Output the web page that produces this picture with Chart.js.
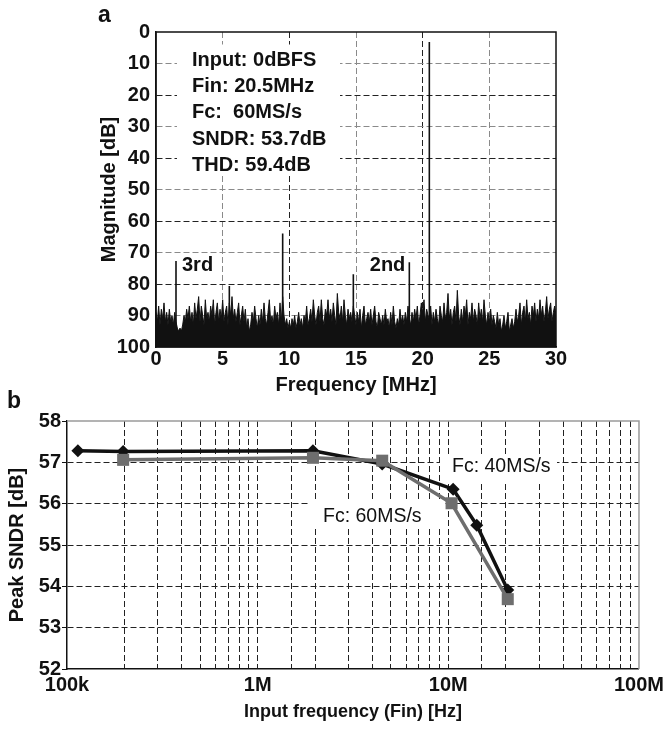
<!DOCTYPE html>
<html>
<head>
<meta charset="utf-8">
<script src="https://cdn.jsdelivr.net/npm/chart.js@4/dist/chart.umd.min.js"></script>
<style>
  html, body { margin: 0; padding: 0; background: #fff; }
  #wrap { position: relative; width: 668px; height: 729px; background: #fff; overflow: hidden; }
  #ca { position: absolute; left: 0; top: 0; }
  #cb { position: absolute; left: 0; top: 390px; }
</style>
</head>
<body>
<div id="wrap">
  <canvas id="ca" width="668" height="400"></canvas>
  <canvas id="cb" width="668" height="339"></canvas>
</div>
<script>
// ---------------- Panel a: FFT spectrum ----------------
const binStepMHz = 0.1;
// magnitude (dB below full scale) per 0.1 MHz bin, 0.0 ... 30.0 MHz
const noiseMag = [
  89,92,87,93,88,91,86,92,89,93,
  88,92,90,93,89,92,94,95,94,95,
  93,90,92,88,91,87,92,89,93,86,
  91,88,84,92,87,90,93,85,91,89,
  92,87,90,85,93,89,86,92,88,91,
  85,92,89,87,93,86,90,84,91,88,
  92,89,86,93,90,87,92,88,94,91,
  95,93,89,92,87,91,94,90,93,88,
  92,86,91,93,89,85,92,90,93,87,
  91,89,93,86,92,84,90,93,91,94,
  92,94,91,93,90,94,92,89,93,91,
  94,90,92,87,93,91,88,92,85,90,
  93,89,87,92,85,91,93,88,90,85,
  91,88,92,86,90,93,83,89,91,87,
  92,85,90,93,88,91,89,92,87,90,
  93,89,92,88,94,90,87,93,91,89,
  92,88,93,90,87,92,94,89,91,93,
  90,93,88,92,91,94,89,93,87,92,
  94,91,93,88,92,90,93,89,92,87,
  91,93,89,92,88,91,87,93,90,86,
  89,85,92,88,90,91,87,93,89,92,
  88,91,93,87,90,92,86,91,89,83,
  91,88,93,89,87,92,82,90,93,88,
  92,87,90,85,93,89,91,86,92,88,
  90,93,86,91,88,92,85,90,93,89,
  92,88,93,90,92,94,89,93,91,95,
  93,90,94,92,89,95,93,91,94,92,
  88,92,90,86,93,89,87,92,85,91,
  89,93,87,90,86,92,88,91,85,90,
  87,92,89,84,91,88,86,92,89,87,
  90
];
// tones: signal and spurs (MHz, dB)
const spikeFreq = [1.5, 5.5, 9.5, 14.8, 19.0, 20.5];
const spikeMag  = [72.7, 80.6, 64.0, 76.9, 73.1, 3.2];
const harmonicNames = ['3rd', '2nd'];
const harmonicFreq  = [1.5, 19.0];
const harmonicMag   = [72.7, 73.1];
const infoLines = ['Input: 0dBFS', 'Fin: 20.5MHz', 'Fc:  60MS/s', 'SNDR: 53.7dB', 'THD: 59.4dB'];

// ---------------- Panel b: SNDR vs input frequency ----------------
const seriesNames = ['Fc: 40MS/s', 'Fc: 60MS/s'];
const finHz40 = [1.14e5, 1.97e5, 1.95e6, 4.5e6, 1.06e7, 1.41e7, 2.05e7];
const sndr40  = [57.28, 57.26, 57.28, 56.96, 56.35, 55.48, 53.91];
const finHz60 = [1.97e5, 1.95e6, 4.5e6, 1.04e7, 2.05e7];
const sndr60  = [57.06, 57.11, 57.04, 56.01, 53.69];
const xTickValues = [1e5, 1e6, 1e7, 1e8];
const xTickLabels = ['100k', '1M', '10M', '100M'];

const FONT = '"Liberation Sans", Arial, Helvetica, sans-serif';

// ---------- build panel a ----------
const noisePts = noiseMag.map((m, i) => ({ x: +(i * binStepMHz).toFixed(2), y: m }));
const spikePts = [];
spikeFreq.forEach((f, i) => {
  spikePts.push({ x: f, y: 100 }, { x: f, y: spikeMag[i] }, { x: f, y: null });
});

const panelAPlugin = {
  id: 'panelA',
  beforeDatasetsDraw(chart) {
    const { ctx, chartArea: a } = chart;
    ctx.save();
    ctx.fillStyle = '#fff';
    ctx.fillRect(a.left + 21, a.top + 12.5, 163, 130);
    ctx.restore();
  },
  afterDraw(chart) {
    const { ctx, chartArea: a, scales: { x, y } } = chart;
    ctx.save();
    ctx.strokeStyle = '#111';
    ctx.lineWidth = 1.5;
    ctx.strokeRect(a.left, a.top, a.right - a.left, a.bottom - a.top);
    ctx.fillStyle = '#111';
    ctx.font = 'bold 20px ' + FONT;
    ctx.textBaseline = 'middle';
    ctx.textAlign = 'left';
    infoLines.forEach((t, i) => ctx.fillText(t, a.left + 36, a.top + 28 + i * 26.4));
    ctx.fillText(harmonicNames[0], x.getPixelForValue(harmonicFreq[0]) + 6, y.getPixelForValue(harmonicMag[0]) + 4);
    ctx.textAlign = 'right';
    ctx.fillText(harmonicNames[1], x.getPixelForValue(harmonicFreq[1]) - 4, y.getPixelForValue(harmonicMag[1]) + 3);
    ctx.textAlign = 'left';
    ctx.textBaseline = 'alphabetic';
    ctx.font = 'bold 23px ' + FONT;
    ctx.fillText('a', 98, 22);
    ctx.restore();
  }
};

new Chart(document.getElementById('ca'), {
  type: 'line',
  data: {
    datasets: [
      { data: noisePts, borderColor: '#111', backgroundColor: '#111', borderWidth: 1,
        pointRadius: 0, fill: { value: 100 }, tension: 0 },
      { data: spikePts, borderColor: '#111', borderWidth: 1.6, pointRadius: 0,
        fill: false, spanGaps: false, tension: 0 }
    ]
  },
  options: {
    responsive: false,
    animation: false,
    events: [],
    layout: { padding: { left: 0, right: 112, top: 32, bottom: 0 } },
    plugins: { legend: { display: false }, tooltip: { enabled: false } },
    scales: {
      x: {
        type: 'linear', min: 0, max: 30, offset: false,
        ticks: { stepSize: 5, font: { family: FONT, size: 20, weight: 'bold' }, color: '#111', padding: 0, maxRotation: 0 },
        grid: {
          drawTicks: false, lineWidth: 1,
          color: c => (c.tick.value === 0 || c.tick.value === 30) ? 'rgba(0,0,0,0)' : (c.tick.value % 10 === 0 ? '#222' : '#8a8a8a')
        },
        border: { display: true, color: '#111', width: 1.5, dash: [6, 3] },
        title: { display: true, text: 'Frequency [MHz]', color: '#111',
          font: { family: FONT, size: 20, weight: 'bold' }, padding: { top: 0, bottom: 3 } },
        afterFit: s => { s.height = 53; }
      },
      y: {
        type: 'linear', min: 0, max: 100, reverse: true,
        ticks: { stepSize: 10, font: { family: FONT, size: 20, weight: 'bold' }, color: '#111', padding: 6 },
        grid: {
          drawTicks: false, lineWidth: 1,
          color: c => (c.tick.value === 0 || c.tick.value === 100) ? 'rgba(0,0,0,0)' : (c.tick.value % 20 === 0 ? '#222' : '#8a8a8a')
        },
        border: { display: true, color: '#111', width: 1.5, dash: [6, 3] },
        title: { display: true, text: 'Magnitude [dB]', color: '#111',
          font: { family: FONT, size: 20, weight: 'bold' }, padding: { top: 97, bottom: 0 } },
        afterFit: s => { s.width = 156; }
      }
    }
  },
  plugins: [panelAPlugin]
});

// ---------- build panel b ----------
const pts40 = finHz40.map((f, i) => ({ x: f, y: sndr40[i] }));
const pts60 = finHz60.map((f, i) => ({ x: f, y: sndr60[i] }));

function tickLabelFor(v) {
  for (let i = 0; i < xTickValues.length; i++) {
    if (Math.abs(Math.log10(v) - Math.log10(xTickValues[i])) < 1e-6) return xTickLabels[i];
  }
  return '';
}
function isEdgeX(v) {
  return Math.abs(Math.log10(v) - 5) < 1e-6 || Math.abs(Math.log10(v) - 8) < 1e-6;
}

const panelBPlugin = {
  id: 'panelB',
  beforeDatasetsDraw(chart) {
    const { ctx, chartArea: a } = chart;
    ctx.save();
    ctx.fillStyle = '#fff';
    ctx.fillRect(a.left + 373, a.top + 34, 117, 27);
    ctx.fillRect(a.left + 243, a.top + 79, 135, 28);
    ctx.restore();
  },
  afterDraw(chart) {
    const { ctx, chartArea: a } = chart;
    ctx.save();
    ctx.strokeStyle = '#9a9a9a';
    ctx.lineWidth = 1.5;
    ctx.beginPath();
    ctx.moveTo(a.left, a.top);
    ctx.lineTo(a.right, a.top);
    ctx.lineTo(a.right, a.bottom);
    ctx.stroke();
    ctx.fillStyle = '#111';
    ctx.font = '19.5px ' + FONT;
    ctx.textBaseline = 'middle';
    ctx.textAlign = 'left';
    ctx.fillText(seriesNames[0], a.left + 385, a.top + 46);
    ctx.fillText(seriesNames[1], a.left + 256, a.top + 96);
    ctx.textBaseline = 'alphabetic';
    ctx.font = 'bold 23px ' + FONT;
    ctx.fillText('b', 7, 18);
    ctx.restore();
  }
};

new Chart(document.getElementById('cb'), {
  type: 'line',
  data: {
    datasets: [
      { label: seriesNames[1], data: pts60, order: 0, borderColor: '#6e6e6e', backgroundColor: '#6e6e6e',
        borderWidth: 3.5, pointStyle: 'rect', pointRadius: 8.5, pointBorderWidth: 0, tension: 0, fill: false },
      { label: seriesNames[0], data: pts40, order: 1, borderColor: '#111', backgroundColor: '#111',
        borderWidth: 3.5, pointStyle: 'rectRot', pointRadius: 6.5, pointBorderWidth: 0, tension: 0, fill: false }
    ]
  },
  options: {
    responsive: false,
    animation: false,
    events: [],
    layout: { padding: { left: 0, right: 27, top: 31, bottom: 0 } },
    plugins: { legend: { display: false }, tooltip: { enabled: false } },
    scales: {
      x: {
        type: 'logarithmic', min: 1e5, max: 1e8, offset: false,
        ticks: { autoSkip: false, maxRotation: 0, font: { family: FONT, size: 20, weight: 'bold' }, color: '#111', padding: 4,
          callback: v => tickLabelFor(v) },
        grid: { drawTicks: false, lineWidth: 1,
          color: c => isEdgeX(c.tick.value) ? 'rgba(0,0,0,0)' : '#222' },
        border: { display: true, color: '#111', width: 1.5, dash: [6, 3] },
        title: { display: true, text: 'Input frequency (Fin) [Hz]', color: '#111',
          font: { family: FONT, size: 18, weight: 'bold' }, padding: { top: 0, bottom: 6 } },
        afterFit: s => { s.height = 60; }
      },
      y: {
        type: 'linear', min: 52, max: 58,
        ticks: { stepSize: 1, font: { family: FONT, size: 20, weight: 'bold' }, color: '#111', padding: 1 },
        grid: { drawTicks: true, tickLength: 5, tickColor: '#111', tickWidth: 1, tickBorderDash: [], lineWidth: 1,
          color: c => (c.tick.value === 52 || c.tick.value === 58) ? 'rgba(0,0,0,0)' : '#222' },
        border: { display: true, color: '#111', width: 1.5, dash: [6, 3] },
        title: { display: true, text: 'Peak SNDR [dB]', color: '#111',
          font: { family: FONT, size: 20, weight: 'bold' }, padding: { top: 5, bottom: 0 } },
        afterFit: s => { s.width = 67; }
      }
    }
  },
  plugins: [panelBPlugin]
});
</script>
</body>
</html>
